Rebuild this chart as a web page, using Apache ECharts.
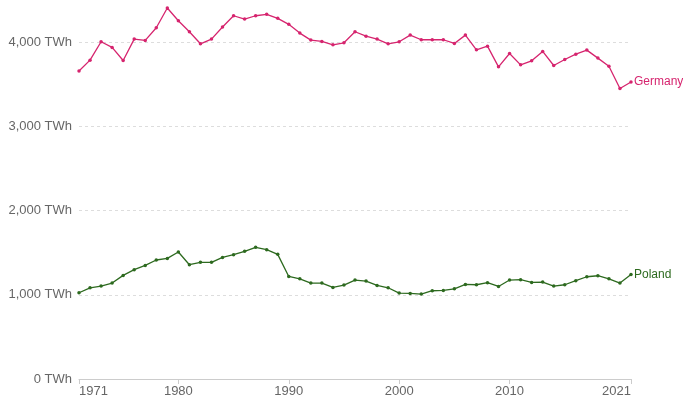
<!DOCTYPE html>
<html>
<head>
<meta charset="utf-8">
<script src="https://cdn.jsdelivr.net/npm/echarts@6/dist/echarts.min.js"></script>
<style>
  html, body { margin: 0; padding: 0; background: #fff; }
  #main { width: 683px; height: 401px; }
</style>
</head>
<body>
<div id="main"></div>
<script>
var years = [];
for (var y = 1971; y <= 2021; y++) years.push(String(y));

var shownYears = ['1971', '1980', '1990', '2000', '2010', '2021'];

var germany = [3658, 3786, 4004, 3937, 3782, 4036, 4020, 4170, 4405, 4254,
  4123, 3980, 4036, 4179, 4313, 4274, 4313, 4330, 4282, 4211,
  4107, 4024, 4008, 3968, 3992, 4123, 4071, 4036, 3980, 4004,
  4083, 4028, 4028, 4028, 3984, 4083, 3909, 3952, 3706, 3865,
  3730, 3778, 3889, 3722, 3794, 3857, 3905, 3810, 3714, 3449,
  3527];

var poland = [1024, 1083, 1103, 1139, 1230, 1298, 1349, 1413, 1432, 1508,
  1357, 1385, 1385, 1444, 1476, 1516, 1563, 1536, 1480, 1218,
  1190, 1139, 1139, 1087, 1115, 1175, 1163, 1111, 1083, 1020,
  1016, 1008, 1048, 1052, 1071, 1123, 1119, 1143, 1099, 1175,
  1179, 1147, 1151, 1103, 1119, 1167, 1214, 1226, 1190, 1139,
  1242];

var font = '"Liberation Sans", Arial, sans-serif';

var chart = echarts.init(document.getElementById('main'), null, { renderer: 'canvas' });

function showYear(index, value) {
  return shownYears.indexOf(value) >= 0;
}

function makeSeries(name, data, color) {
  return {
    name: name,
    type: 'line',
    data: data,
    symbol: 'circle',
    symbolSize: 3.5,
    showSymbol: true,
    clip: false,
    lineStyle: { color: color, width: 1.3 },
    itemStyle: { color: color },
    endLabel: {
      show: true,
      formatter: '{a}',
      color: color,
      fontSize: 12,
      fontFamily: font,
      distance: 3
    },
    emphasis: { disabled: true }
  };
}

var option = {
  animation: false,
  grid: { left: 79, right: 52, top: 0, bottom: 22 },
  xAxis: {
    type: 'category',
    data: years,
    boundaryGap: false,
    axisLine: { lineStyle: { color: '#cccccc' } },
    axisTick: { interval: showYear, length: 5, lineStyle: { color: '#cccccc' } },
    axisLabel: {
      interval: showYear,
      color: '#666666',
      fontSize: 13,
      fontFamily: font,
      margin: 6,
      alignMinLabel: 'left',
      alignMaxLabel: 'right'
    },
    splitLine: { show: false }
  },
  yAxis: {
    type: 'value',
    min: 0,
    max: 4500,
    interval: 1000,
    axisLine: { show: false },
    axisTick: { show: false },
    axisLabel: {
      color: '#666666',
      fontSize: 13,
      fontFamily: font,
      margin: 7,
      showMaxLabel: false,
      formatter: function (v) {
        if (v % 1000 !== 0) return '';
        return v.toLocaleString('en-US') + ' TWh';
      }
    },
    splitLine: {
      showMaxLine: false,
      lineStyle: { color: '#dddddd', type: [3, 3] }
    }
  },
  series: [
    makeSeries('Germany', germany, '#d6246e'),
    makeSeries('Poland', poland, '#2d6a1f')
  ]
};

chart.setOption(option);
</script>
</body>
</html>
